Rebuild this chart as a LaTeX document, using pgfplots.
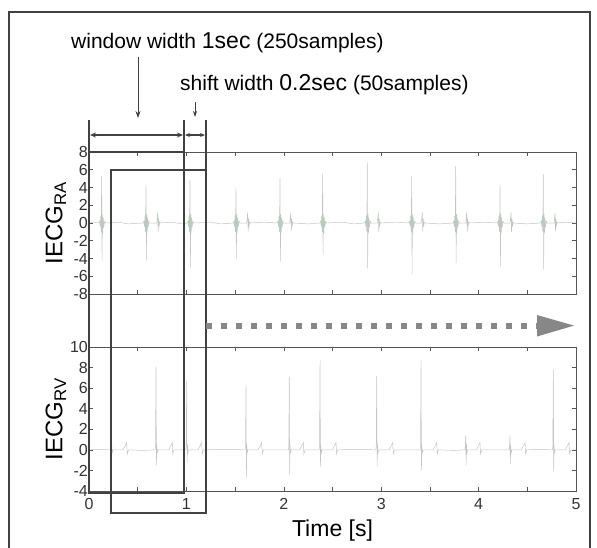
\documentclass[border=0pt]{standalone}
\usepackage{pgfplots}
\pgfplotsset{compat=1.18}
\usepackage{pgfplotstable}
\usepackage{fontspec}
\setmainfont{Liberation Sans}
\usetikzlibrary{arrows.meta}

\definecolor{sig}{RGB}{192,198,192}
\definecolor{frm}{RGB}{65,65,65}
\definecolor{axc}{RGB}{85,85,85}
\definecolor{arr}{RGB}{135,135,135}

% IECG right atrium
\pgfplotstableread{
t v
0 0
0.05 0.1
0.100 0
0.110 0.2
0.115 -0.4
0.120 0.8
0.125 -1.0
0.130 5.3
0.134 -4.3
0.138 1.0
0.142 -1.2
0.147 0.6
0.152 -0.5
0.160 0.2
0.170 0
0.30 0.1
0.40 -0.1
0.555 0
0.565 0.2
0.570 -0.4
0.575 0.8
0.580 -1.0
0.585 4.3
0.589 -4.2
0.593 1.0
0.597 -1.2
0.602 0.6
0.607 -0.5
0.615 0.2
0.625 0
0.695 0
0.705 1.2
0.710 -1.0
0.715 0.5
0.720 -0.4
0.725 0.1
0.735 0
0.85 0.1
0.95 -0.1
1.007 0
1.017 0.2
1.022 -0.4
1.027 0.8
1.032 -1.0
1.037 4.8
1.041 -5.0
1.045 1.0
1.049 -1.2
1.054 0.6
1.059 -0.5
1.067 0.2
1.077 0
1.25 0.1
1.35 -0.1
1.479 0
1.489 0.2
1.494 -0.4
1.499 0.8
1.504 -1.0
1.509 4.0
1.513 -4.0
1.517 1.0
1.521 -1.2
1.526 0.6
1.531 -0.5
1.539 0.2
1.549 0
1.619 0
1.629 1.2
1.634 -1.0
1.639 0.5
1.644 -0.4
1.649 0.1
1.659 0
1.80 0.1
1.931 0
1.941 0.2
1.946 -0.4
1.951 0.8
1.956 -1.0
1.961 5.1
1.965 -4.3
1.969 1.0
1.973 -1.2
1.978 0.6
1.983 -0.5
1.991 0.2
2.001 0
2.061 0
2.071 1.1
2.076 -0.9
2.081 0.5
2.086 -0.4
2.091 0.1
2.101 0
2.25 -0.1
2.369 0
2.379 0.2
2.384 -0.4
2.389 0.8
2.394 -1.0
2.399 5.5
2.403 -3.5
2.407 1.0
2.411 -1.2
2.416 0.6
2.421 -0.5
2.429 0.2
2.439 0
2.60 0.1
2.72 -0.1
2.827 0
2.837 0.2
2.842 -0.4
2.847 0.8
2.852 -1.0
2.857 6.8
2.861 -5.1
2.865 1.0
2.869 -1.2
2.874 0.6
2.879 -0.5
2.887 0.2
2.897 0
2.960 0
2.970 1.2
2.975 -1.0
2.980 0.5
2.985 -0.4
2.990 0.1
3.000 0
3.15 0.1
3.283 0
3.293 0.2
3.298 -0.4
3.303 0.8
3.308 -1.0
3.313 5.3
3.317 -5.8
3.321 1.0
3.325 -1.2
3.330 0.6
3.335 -0.5
3.343 0.2
3.353 0
3.412 0
3.422 1.2
3.427 -1.0
3.432 0.5
3.437 -0.4
3.442 0.1
3.452 0
3.60 -0.1
3.735 0
3.745 0.2
3.750 -0.4
3.755 0.8
3.760 -1.0
3.765 6.4
3.769 -4.5
3.773 1.0
3.777 -1.2
3.782 0.6
3.787 -0.5
3.795 0.2
3.805 0
3.868 0
3.878 1.2
3.883 -1.0
3.888 0.5
3.893 -0.4
3.898 0.1
3.908 0
4.05 0.1
4.190 0
4.200 0.2
4.205 -0.4
4.210 0.8
4.215 -1.0
4.220 4.3
4.224 -4.9
4.228 1.0
4.232 -1.2
4.237 0.6
4.242 -0.5
4.250 0.2
4.260 0
4.323 0
4.333 1.2
4.338 -1.0
4.343 0.5
4.348 -0.4
4.353 0.1
4.363 0
4.50 -0.1
4.634 0
4.644 0.2
4.649 -0.4
4.654 0.8
4.659 -1.0
4.664 5.5
4.668 -5.2
4.672 1.0
4.676 -1.2
4.681 0.6
4.686 -0.5
4.694 0.2
4.704 0
4.774 0
4.784 1.1
4.789 -0.9
4.794 0.5
4.799 -0.4
4.804 0.1
4.814 0
4.90 0.1
5 0
}\ra

% IECG right ventricle
\pgfplotstableread{
t v
0 0
0.10 0.05
0.216 0
0.221 0.3
0.226 6.0
0.230 -1.5
0.234 0.5
0.238 -0.3
0.246 0
0.350 0
0.387 0.7
0.393 -0.4
0.405 0
0.55 -0.05
0.678 0
0.683 0.3
0.688 8.1
0.692 -1.5
0.696 0.5
0.700 -0.3
0.708 0
0.818 0
0.855 0.7
0.861 -0.4
0.873 0
0.993 0
0.998 0.3
1.003 6.7
1.007 -1.3
1.011 0.5
1.015 -0.3
1.023 0
1.120 0
1.157 0.7
1.163 -0.4
1.175 0
1.40 0.05
1.602 0
1.607 0.3
1.612 6.2
1.616 -2.7
1.620 0.5
1.624 -0.3
1.632 0
1.736 0
1.773 0.7
1.779 -0.4
1.791 0
2.046 0
2.051 0.3
2.056 7.1
2.060 -2.4
2.064 0.5
2.068 -0.3
2.076 0
2.163 0
2.200 0.7
2.206 -0.4
2.218 0
2.362 0
2.367 0.3
2.372 8.7
2.376 -1.6
2.380 0.5
2.384 -0.3
2.392 0
2.499 0
2.536 0.7
2.542 -0.4
2.554 0
2.75 0.05
2.944 0
2.949 0.3
2.954 7.2
2.958 -1.7
2.962 0.5
2.966 -0.3
2.974 0
3.081 0
3.118 0.7
3.124 -0.4
3.136 0
3.399 0
3.404 0.3
3.409 8.7
3.413 -2.0
3.417 0.5
3.421 -0.3
3.429 0
3.533 0
3.570 0.7
3.576 -0.4
3.588 0
3.75 -0.05
3.858 0
3.863 0.3
3.868 1.4
3.872 -1.5
3.876 0.5
3.880 -0.3
3.888 0
3.977 0
4.014 0.7
4.020 -0.4
4.032 0
4.312 0
4.317 0.3
4.322 1.4
4.326 -1.4
4.330 0.5
4.334 -0.3
4.342 0
4.439 0
4.476 0.7
4.482 -0.4
4.494 0
4.60 0.05
4.757 0
4.762 0.3
4.767 7.8
4.771 -2.0
4.775 0.5
4.779 -0.3
4.787 0
4.891 0
4.928 0.7
4.934 -0.4
4.946 0
5 0
}\rv

\pgfplotsset{
  ecg/.style={
    scale only axis, width=487pt,
    xmin=0, xmax=5,
    xtick={0,1,...,5}, minor xtick={0.5,1.5,...,4.5},
    tick align=inside, major tick length=4pt, minor tick length=4pt,
    axis line style={axc, line width=0.8pt},
    every tick/.style={axc, line width=0.6pt},
    every minor tick/.style={axc, line width=0.6pt},
    /pgf/number format/assume math mode=true,
    ticklabel style={font=\fontsize{16}{16}\selectfont, text=black!80},
    yticklabel style={inner sep=1pt},
    xticklabel style={yshift=-4pt},
    every axis y label/.style={at={(axis description cs:-0.068,0.5)}, rotate=90,
      anchor=center, font=\fontsize{24}{24}\selectfont},
  },
}

\begin{document}
\begin{tikzpicture}[x=1pt,y=1pt]
\useasboundingbox (0,0) rectangle (597,-547);
\draw[frm, line width=1.2pt] (9,-560) -- (9,-12) -- (590,-12) -- (590,-560);

\begin{axis}[ecg, at={(89pt,-294pt)}, anchor=south west, height=142pt,
  ymin=-8, ymax=8, ytick={-8,-6,...,8}, xticklabels={},
  ylabel={IECG\textsubscript{RA}}]
\addplot[sig, line width=0.5pt] table[x=t, y=v] {\ra};
\end{axis}

\begin{axis}[ecg, at={(89pt,-491pt)}, anchor=south west, height=144pt,
  ymin=-4, ymax=10, ytick={-4,-2,...,10},
  xlabel={Time [s]}, xlabel style={font=\fontsize{23}{23}\selectfont, yshift=-3pt},
  ylabel={IECG\textsubscript{RV}}]
\addplot[sig, line width=0.5pt] table[x=t, y=v] {\rv};
\end{axis}

% sliding windows
\draw[frm, line width=1.6pt] (89,-152) rectangle (184,-493);
\draw[frm, line width=1.6pt] (111,-170) rectangle (206,-513);
\draw[frm, line width=1.2pt] (89,-120) -- (89,-152);
\draw[frm, line width=1.2pt] (184,-120) -- (184,-152);
\draw[frm, line width=1.2pt] (206,-120) -- (206,-170);
\draw[frm, line width=1.1pt, {Stealth[length=6pt,width=5pt]}-{Stealth[length=6pt,width=5pt]}] (90,-135) -- (183,-135);
\draw[frm, line width=1.1pt, {Stealth[length=5pt,width=4pt]}-{Stealth[length=5pt,width=4pt]}] (185,-135) -- (205,-135);
\draw[frm, line width=0.8pt, -{Stealth[length=7pt,width=5pt]}] (138,-57) -- (138,-118);
\draw[frm, line width=0.8pt, -{Stealth[length=6pt,width=4pt]}] (195,-102) -- (195,-117);
\node[anchor=west, inner sep=0pt, font=\fontsize{21}{21}\selectfont] at (71,-43)
  {window width {\fontsize{23}{23}\selectfont 1sec} (250samples)};
\node[anchor=west, inner sep=0pt, font=\fontsize{21}{21}\selectfont] at (180,-85)
  {shift width {\fontsize{23}{23}\selectfont 0.2sec} (50samples)};

% shift direction
\draw[arr, line width=6pt, dash pattern=on 6pt off 9pt] (206,-325.6) -- (537,-325.6);
\fill[arr] (537,-315) -- (574,-325.6) -- (537,-336.5) -- cycle;
\end{tikzpicture}
\end{document}
